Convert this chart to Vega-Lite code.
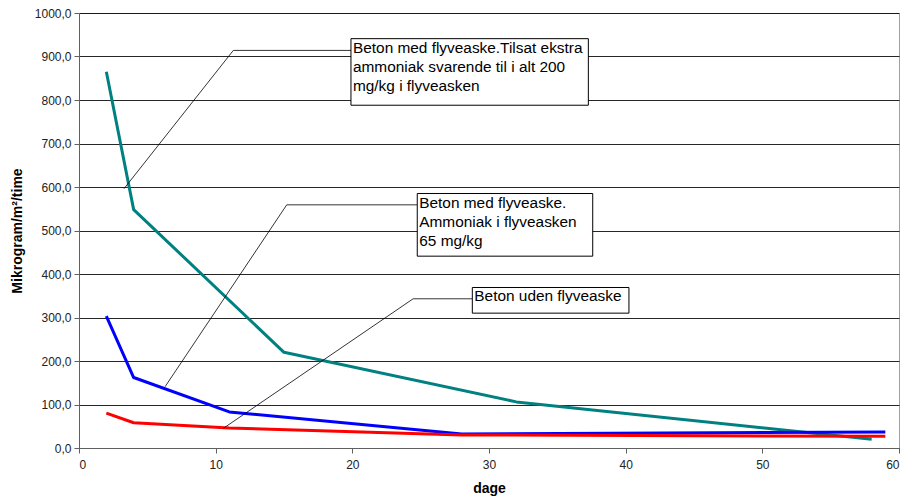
{
  "$schema": "https://vega.github.io/schema/vega-lite/v6.json",
  "width": 820,
  "height": 435,
  "autosize": {"type": "none"},
  "padding": {"left": 79, "top": 13, "right": 11, "bottom": 56},
  "background": "white",
  "config": {
    "font": "Liberation Sans",
    "view": {"stroke": "#a0a0a0", "strokeWidth": 1},
    "axis": {
      "labelFont": "Liberation Sans",
      "titleFont": "Liberation Sans",
      "labelFontSize": 12,
      "labelColor": "#222222",
      "titleFontSize": 14,
      "titleFontWeight": "bold",
      "titleColor": "#000000",
      "domainColor": "#606060",
      "tickColor": "#606060",
      "tickSize": 5,
      "gridColor": "#000000",
      "gridOpacity": 0.85,
      "gridWidth": 1
    }
  },
  "datasets": {
    "series": [
      {"serie": "teal", "dage": 2, "vaerdi": 865},
      {"serie": "teal", "dage": 4, "vaerdi": 548},
      {"serie": "teal", "dage": 15, "vaerdi": 220},
      {"serie": "teal", "dage": 32, "vaerdi": 106},
      {"serie": "teal", "dage": 58, "vaerdi": 20},
      {"serie": "blue", "dage": 2, "vaerdi": 303},
      {"serie": "blue", "dage": 4, "vaerdi": 162},
      {"serie": "blue", "dage": 11, "vaerdi": 83},
      {"serie": "blue", "dage": 28, "vaerdi": 32},
      {"serie": "blue", "dage": 59, "vaerdi": 37},
      {"serie": "red", "dage": 2, "vaerdi": 80},
      {"serie": "red", "dage": 4, "vaerdi": 58},
      {"serie": "red", "dage": 11, "vaerdi": 46},
      {"serie": "red", "dage": 28, "vaerdi": 30},
      {"serie": "red", "dage": 59, "vaerdi": 27}
    ],
    "leaders": [
      {"grp": "a", "o": 1, "x": 3.29, "y": 596},
      {"grp": "a", "o": 2, "x": 11.29, "y": 914},
      {"grp": "a", "o": 3, "x": 19.9, "y": 914},
      {"grp": "b", "o": 1, "x": 6.3, "y": 141},
      {"grp": "b", "o": 2, "x": 15.2, "y": 559},
      {"grp": "b", "o": 3, "x": 24.75, "y": 559},
      {"grp": "c", "o": 1, "x": 10.55, "y": 45},
      {"grp": "c", "o": 2, "x": 24.45, "y": 343},
      {"grp": "c", "o": 3, "x": 28.78, "y": 343}
    ],
    "boxes": [
      {"x1": 19.9, "x2": 37.27, "y1": 941, "y2": 788, "label": "Beton med flyveaske.Tilsat ekstra\nammoniak svarende til i alt 200\nmg/kg i flyveasken"},
      {"x1": 24.75, "x2": 37.59, "y1": 585, "y2": 441, "label": "Beton med flyveaske.\nAmmoniak i flyveasken\n65 mg/kg"},
      {"x1": 28.78, "x2": 40.24, "y1": 369, "y2": 310, "label": "Beton uden flyveaske"}
    ]
  },
  "layer": [
    {
      "data": {"name": "series"},
      "mark": {"type": "line", "strokeWidth": 3, "strokeJoin": "round"},
      "encoding": {
        "x": {
          "field": "dage", "type": "quantitative",
          "scale": {"domain": [0, 60], "nice": false},
          "axis": {"title": "dage", "values": [0, 10, 20, 30, 40, 50, 60], "grid": false, "labelPadding": 6, "titlePadding": 11}
        },
        "y": {
          "field": "vaerdi", "type": "quantitative",
          "scale": {"domain": [0, 1000], "nice": false},
          "axis": {
            "title": "Mikrogram/m²/time",
            "values": [0, 100, 200, 300, 400, 500, 600, 700, 800, 900, 1000],
            "labelExpr": "replace(format(datum.value, '.1f'), '.', ',')",
            "labelPadding": 3,
            "titlePadding": 10
          }
        },
        "color": {
          "field": "serie", "type": "nominal",
          "scale": {"domain": ["teal", "blue", "red"], "range": ["#008080", "#0000ff", "#ff0000"]},
          "legend": null
        },
        "detail": {"field": "serie"}
      }
    },
    {
      "data": {"name": "leaders"},
      "mark": {"type": "line", "color": "#000000", "strokeWidth": 0.8},
      "encoding": {
        "x": {"field": "x", "type": "quantitative"},
        "y": {"field": "y", "type": "quantitative"},
        "detail": {"field": "grp"},
        "order": {"field": "o"}
      }
    },
    {
      "data": {"name": "boxes"},
      "mark": {"type": "rect", "fill": "white", "stroke": "#000000", "strokeWidth": 1},
      "encoding": {
        "x": {"field": "x1", "type": "quantitative"},
        "x2": {"field": "x2"},
        "y": {"field": "y1", "type": "quantitative"},
        "y2": {"field": "y2"}
      }
    },
    {
      "data": {"name": "boxes"},
      "mark": {"type": "text", "align": "left", "baseline": "top", "dx": 2, "dy": 2, "fontSize": 15.4, "lineBreak": "\n", "lineHeight": 19, "color": "#000000", "font": "Liberation Sans"},
      "encoding": {
        "x": {"field": "x1", "type": "quantitative"},
        "y": {"field": "y1", "type": "quantitative"},
        "text": {"field": "label"}
      }
    }
  ]
}
